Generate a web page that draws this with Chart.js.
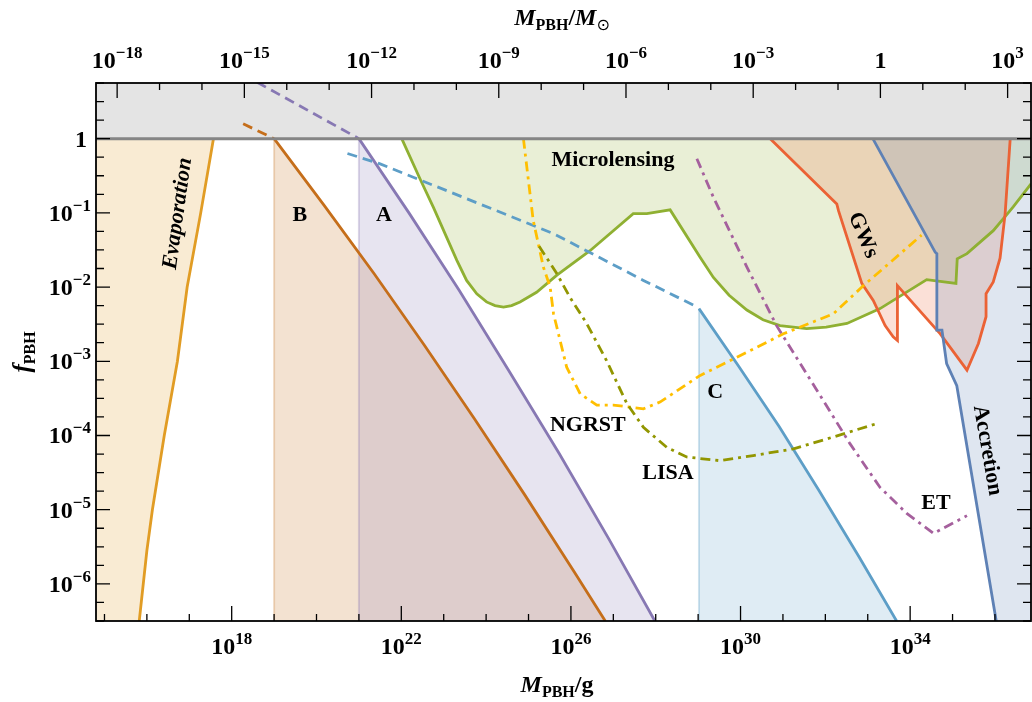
<!DOCTYPE html>
<html>
<head>
<meta charset="utf-8">
<script src="https://cdn.jsdelivr.net/npm/chart.js@4.4.0/dist/chart.umd.min.js"></script>
<style>
  html, body { margin: 0; padding: 0; background: #fff; }
  #wrap { width: 1032px; height: 702px; }
</style>
</head>
<body>
<div id="wrap"><canvas id="pbh"></canvas></div>
<script>
// everything is in log10 units: x = log10(M_PBH / g), y = log10(f_PBH)
const massRange = [14.8, 36.85];
const fRange = [-6.5, 0.75];
const logSolarMass = 33.2986; // log10(M_sun / g)

const gramTicks = [18, 22, 26, 30, 34];
const solarTicks = [-18, -15, -12, -9, -6, -3, 0, 3];
const fTicks = [0, -1, -2, -3, -4, -5, -6];

// constraint boundaries
const evapM = [17.57, 17.27, 16.95, 16.72, 16.41, 16.13, 16.00, 15.82];
const evapF = [0, -1, -2, -3, -4, -5, -5.55, -6.5];

const bLineM = [19.0, 20.18, 21.36, 22.54, 23.72, 24.90, 26.08, 26.81];
const bLineF = [0, -0.90, -1.82, -2.78, -3.77, -4.79, -5.84, -6.5];
const bDashM = [18.27, 19.0];
const bDashF = [0.2, 0];

const aLineM = [21.0, 22.18, 23.36, 24.54, 25.72, 26.90, 27.98];
const aLineF = [0, -1.00, -2.04, -3.13, -4.24, -5.40, -6.5];
const aDashM = [18.6, 21.0];
const aDashF = [0.76, 0];

const mlM = [22.01, 22.44, 22.76, 23.07, 23.31, 23.54, 23.78, 24.01, 24.21, 24.41, 24.60, 24.80, 25.19, 25.67, 26.45, 27.47, 27.79, 28.34, 29.05, 29.36, 29.73, 30.15, 30.53, 30.93, 31.56, 32.02, 32.51, 33.29, 34.39, 35.08, 35.11, 35.34, 35.96, 36.43, 36.85];
const mlF = [0, -0.54, -0.93, -1.33, -1.64, -1.91, -2.09, -2.20, -2.25, -2.27, -2.25, -2.20, -2.07, -1.84, -1.51, -1.01, -1.01, -0.96, -1.60, -1.87, -2.11, -2.31, -2.44, -2.52, -2.56, -2.54, -2.49, -2.29, -1.90, -1.95, -1.62, -1.55, -1.24, -0.92, -0.61];

const cDashM = [20.73, 21.50, 25.59, 27.71, 28.95];
const cDashF = [-0.20, -0.34, -1.28, -1.91, -2.26];
const cLineM = [29.02, 29.96, 30.91, 31.85, 32.79, 33.68];
const cLineF = [-2.29, -3.07, -3.88, -4.74, -5.63, -6.5];

const gwM = [30.70, 32.27, 32.31, 32.86, 33.13, 33.41, 33.60, 33.70, 33.70, 34.71, 35.34, 35.61, 35.79, 35.79, 35.96, 36.12, 36.24, 36.36];
const gwF = [0, -0.88, -0.97, -1.95, -2.18, -2.52, -2.67, -2.72, -1.98, -2.63, -3.12, -2.76, -2.40, -2.09, -1.93, -1.61, -1.01, 0];

const accM = [33.12, 34.59, 34.63, 34.63, 34.75, 34.86, 35.10, 36.03];
const accF = [0, -1.53, -1.55, -2.58, -2.58, -3.03, -3.33, -6.5];

// future detector sensitivities
const ngM = [24.88, 25.11, 25.35, 25.51, 25.59, 25.90, 26.22, 26.61, 27.00, 27.71, 28.10, 29.05, 29.83, 31.01, 32.19, 32.90, 34.27];
const ngF = [0, -1.10, -1.73, -2.00, -2.36, -3.08, -3.44, -3.59, -3.59, -3.64, -3.55, -3.19, -2.97, -2.63, -2.36, -1.98, -1.30];

const lisaM = [25.25, 25.67, 25.98, 26.37, 26.84, 27.32, 27.71, 28.26, 28.73, 29.52, 30.30, 31.25, 32.19, 33.21];
const lisaF = [-1.45, -1.82, -2.14, -2.49, -2.99, -3.57, -3.89, -4.16, -4.29, -4.34, -4.27, -4.18, -4.02, -3.84];

const etM = [28.97, 29.36, 30.15, 30.85, 31.80, 32.58, 33.29, 33.92, 34.55, 35.34];
const etF = [-0.27, -0.79, -1.73, -2.52, -3.39, -4.11, -4.70, -5.05, -5.32, -5.08];

// text annotations (positions in data units)
const noteText = ['Microlensing', 'B', 'A', 'NGRST', 'LISA', 'C', 'ET', 'GWs', 'Evaporation', 'Accretion'];
const noteM = [26.99, 19.61, 21.59, 26.40, 28.29, 29.40, 34.61, 32.89, 16.73, 35.82];
const noteF = [-0.29, -1.03, -1.03, -3.86, -4.51, -3.42, -4.92, -1.30, -1.01, -4.20];
const noteAngle = [0, 0, 0, 0, 0, 0, 0, 67, -82, 80];

const [mMin, mMax] = massRange;
const [fMin, fMax] = fRange;

const col = {
  blue: '94,129,181', orange: '225,156,36', green: '143,176,50', red: '235,98,53',
  purple: '135,120,179', dorange: '197,110,26', lblue: '93,158,199',
  yellow: '255,191,0', magenta: '165,96,157', olive: '146,150,0'
};
const rgba = (c, a) => `rgba(${c},${a})`;
const rgb = c => `rgb(${c})`;

const pts = (xs, ys) => xs.map((x, i) => ({ x: x, y: ys[i] }));

function area(data, color) {
  return { data: data, fill: 'shape', backgroundColor: color, borderColor: 'transparent', borderWidth: 0, pointRadius: 0 };
}
function curve(data, color, width, dash) {
  return { data: data, fill: false, borderColor: color, borderWidth: width, borderDash: dash || [], pointRadius: 0 };
}

const dashed = [10, 6];
const dashDot = [10, 5, 3, 5];
const lw = 2.8;

// first entry is drawn first (underneath)
const layers = [
  area(pts([mMin, mMax, mMax, mMin], [0, 0, fMax, fMax]), '#e4e4e4'),
  area([{ x: mMin, y: 0 }].concat(pts(evapM, evapF), [{ x: mMin, y: fMin }]), rgba(col.orange, 0.2)),
  area(pts(bLineM, bLineF).concat([{ x: bLineM[0], y: fMin }]), rgba(col.dorange, 0.2)),
  area(pts(aLineM, aLineF).concat([{ x: aLineM[0], y: fMin }]), rgba(col.purple, 0.2)),
  area(pts(mlM, mlF).concat([{ x: mMax, y: 0 }]), rgba(col.green, 0.2)),
  area(pts(cLineM, cLineF).concat([{ x: cLineM[0], y: fMin }]), rgba(col.lblue, 0.2)),
  area(pts(gwM, gwF), rgba(col.red, 0.2)),
  area(pts(accM, accF).concat([{ x: mMax, y: fMin }, { x: mMax, y: 0 }]), rgba(col.blue, 0.2)),

  curve(pts([bLineM[0], bLineM[0]], [0, fMin]), rgba(col.dorange, 0.25), 2),
  curve(pts([aLineM[0], aLineM[0]], [0, fMin]), rgba(col.purple, 0.3), 2),
  curve(pts([cLineM[0], cLineM[0]], [cLineF[0], fMin]), rgba(col.lblue, 0.3), 2),

  curve(pts(evapM, evapF), rgb(col.orange), lw),
  curve(pts(bLineM, bLineF), rgb(col.dorange), lw),
  curve(pts(aLineM, aLineF), rgb(col.purple), lw),
  curve(pts(mlM, mlF), rgb(col.green), lw),
  curve(pts(cLineM, cLineF), rgb(col.lblue), lw),
  curve(pts(gwM, gwF), rgb(col.red), lw),
  curve(pts(accM, accF), rgb(col.blue), lw),

  curve(pts(bDashM, bDashF), rgb(col.dorange), lw, dashed),
  curve(pts(aDashM, aDashF), rgb(col.purple), lw, dashed),
  curve(pts(cDashM, cDashF), rgb(col.lblue), lw, dashed),

  curve(pts(ngM, ngF), rgb(col.yellow), lw, dashDot),
  curve(pts(lisaM, lisaF), rgb(col.olive), lw, dashDot),
  curve(pts(etM, etF), rgb(col.magenta), lw, dashDot),

  curve(pts([mMin, mMax], [0, 0]), '#858585', 3)
];
layers.forEach((d, i) => { d.order = layers.length - i; });

const SERIF = "'Liberation Serif', 'Times New Roman', serif";
const font = (size, style) => (style || 'bold') + ' ' + size + 'px ' + SERIF;

// draw a row of text pieces [text, font, dy]
function runs(ctx, parts, x, y, align) {
  let w = 0;
  parts.forEach(p => { ctx.font = p[1]; w += ctx.measureText(p[0]).width; });
  let cx = align === 'right' ? x - w : (align === 'left' ? x : x - w / 2);
  ctx.textAlign = 'left';
  ctx.textBaseline = 'alphabetic';
  parts.forEach(p => {
    ctx.font = p[1];
    ctx.fillText(p[0], cx, y + (p[2] || 0));
    cx += ctx.measureText(p[0]).width;
  });
}
function powParts(e) {
  if (e === 0) return [['1', font(24)]];
  return [['10', font(24)], [String(e).replace('-', '\u2212'), font(17), -10]];
}

const framePlugin = {
  id: 'frame',
  afterDatasetsDraw(chart) {
    const { ctx, chartArea: a, scales: { x, y } } = chart;
    ctx.save();
    ctx.strokeStyle = '#000';
    ctx.lineWidth = 1.3;
    ctx.beginPath();
    for (let e = Math.ceil(mMin); e <= mMax; e++) {
      const px = x.getPixelForValue(e);
      const len = gramTicks.includes(e) ? 15 : 7;
      ctx.moveTo(px, a.bottom); ctx.lineTo(px, a.bottom - len);
    }
    for (let s = Math.ceil(mMin - logSolarMass); s + logSolarMass <= mMax; s++) {
      const px = x.getPixelForValue(s + logSolarMass);
      const len = solarTicks.includes(s) ? 15 : 7;
      ctx.moveTo(px, a.top); ctx.lineTo(px, a.top + len);
    }
    for (let k = Math.ceil(fMin * 4); k <= fMax * 4; k++) {
      const py = y.getPixelForValue(k / 4);
      const len = k % 4 === 0 ? 14 : 8;
      ctx.moveTo(a.left, py); ctx.lineTo(a.left + len, py);
      ctx.moveTo(a.right, py); ctx.lineTo(a.right - len, py);
    }
    ctx.stroke();
    ctx.lineWidth = 1.8;
    ctx.strokeRect(a.left, a.top, a.right - a.left, a.bottom - a.top);

    ctx.fillStyle = '#000';
    gramTicks.forEach(e => runs(ctx, powParts(e), x.getPixelForValue(e), a.bottom + 33));
    solarTicks.forEach(s => runs(ctx, powParts(s), x.getPixelForValue(s + logSolarMass), a.top - 15));
    fTicks.forEach(f => runs(ctx, powParts(f), f === 0 ? 87 : 91, y.getPixelForValue(f) + 8, 'right'));

    // axis titles
    runs(ctx, [['M', font(24, 'italic bold')], ['PBH', font(16), 5], ['/', font(24)], ['M', font(24, 'italic bold')], ['\u2299', '16px DejaVu Sans', 5]], 562, 25);
    runs(ctx, [['M', font(24, 'italic bold')], ['PBH', font(16), 5], ['/g', font(24)]], 557, 692);
    ctx.save();
    ctx.translate(30, 352);
    ctx.rotate(-Math.PI / 2);
    runs(ctx, [['f', font(25, 'italic bold')], ['PBH', font(16), 5]], 0, 0);
    ctx.restore();

    // region labels
    noteText.forEach((t, i) => {
      ctx.save();
      ctx.translate(x.getPixelForValue(noteM[i]), y.getPixelForValue(noteF[i]));
      ctx.rotate(noteAngle[i] * Math.PI / 180);
      ctx.font = font(22, t === 'Evaporation' ? 'italic bold' : 'bold');
      ctx.textAlign = 'center';
      ctx.textBaseline = 'middle';
      ctx.fillText(t, 0, 0);
      ctx.restore();
    });
    ctx.restore();
  }
};

new Chart(document.getElementById('pbh'), {
  type: 'line',
  data: { datasets: layers },
  options: {
    responsive: true,
    maintainAspectRatio: false,
    animation: false,
    devicePixelRatio: 1,
    events: [],
    layout: { padding: { left: 96, right: 1, top: 83, bottom: 81 } },
    elements: { line: { tension: 0 } },
    plugins: { legend: { display: false }, tooltip: { enabled: false } },
    scales: {
      x: { type: 'linear', min: mMin, max: mMax, display: false },
      y: { type: 'linear', min: fMin, max: fMax, display: false }
    }
  },
  plugins: [framePlugin]
});
</script>
</body>
</html>
